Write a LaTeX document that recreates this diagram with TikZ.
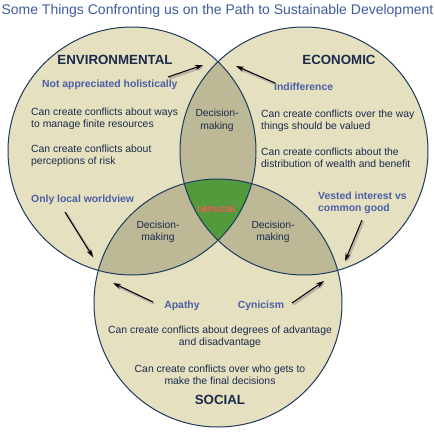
\documentclass[tikz,border=0pt]{standalone}
\usepackage{fontspec}
\setmainfont{Liberation Sans}
\usetikzlibrary{positioning}
\usetikzlibrary{arrows.meta}
\definecolor{parchment}{HTML}{E5E0BF}
\definecolor{lensgrey}{HTML}{BDB996}
\definecolor{impgreen}{HTML}{529A3C}
\definecolor{rimnavy}{HTML}{1E3A5C}
\definecolor{titleblue}{HTML}{3F5C9C}
\definecolor{cueblue}{HTML}{4B5EA6}
\definecolor{inknavy}{HTML}{1B2A4A}
\definecolor{alarmred}{HTML}{E8302C}
\definecolor{haloglow}{HTML}{E8B0A0}

\begin{document}
\begin{tikzpicture}[
    x=1pt, y=-1pt,
    >={Stealth[length=8pt,width=5pt]},
    % node styles
    heading/.style = {
      font=\fontsize{13.3}{15}\selectfont\bfseries,
      text=inknavy,
      inner sep=0pt
    },
    cue/.style = {
      font=\fontsize{10.4}{12}\selectfont\bfseries,
      text=cueblue,
      inner sep=0pt,
      align=left
    },
    body/.style = {
      font=\fontsize{10.4}{12}\selectfont,
      text=inknavy,
      inner sep=0pt,
      align=left
    },
    decide/.style = {
      font=\fontsize{10.3}{12.5}\selectfont,
      text=inknavy,
      inner sep=0pt,
      align=center
    },
    % ring styles
    ring/.style = {draw=rimnavy, line width=1pt},
    % arrow styles
    arr/.style = {->, line width=1pt, draw=black,
      preaction={draw=black!45, opacity=0.5, line width=2.5pt,
        transform canvas={shift={(1.2pt,-1.5pt)}}}}
  ]
  \useasboundingbox (0,0) rectangle (435,440);
  \fill[white] (0,0) rectangle (435,440);

  % --- Circles
  \coordinate (envc) at (132,151);
  \coordinate (ecoc) at (304,151);
  \coordinate (socc) at (218,303);
  \def\rad{124}

  \fill[parchment] (envc) circle (\rad);
  \fill[parchment] (ecoc) circle (\rad);
  \fill[parchment] (socc) circle (\rad);

  \begin{scope}
    \clip (envc) circle (\rad);
    \fill[lensgrey] (ecoc) circle (\rad);
    \fill[lensgrey] (socc) circle (\rad);
  \end{scope}
  \begin{scope}
    \clip (ecoc) circle (\rad);
    \fill[lensgrey] (socc) circle (\rad);
  \end{scope}
  \begin{scope}
    \clip (envc) circle (\rad);
    \clip (ecoc) circle (\rad);
    \fill[impgreen] (socc) circle (\rad);
  \end{scope}

  \draw[ring] (envc) circle (\rad);
  \draw[ring] (ecoc) circle (\rad);
  \draw[ring] (socc) circle (\rad);

  % --- Title
  \node[font=\fontsize{14}{16}\selectfont, text=titleblue, inner sep=0pt]
    (title) at (217.5,11) {Some Things Confronting us on the Path to Sustainable Development};

  % --- Headings
  \node[heading] (env) at (115,60) {ENVIRONMENTAL};
  \node[heading] (eco) at (339,60) {ECONOMIC};
  \node[heading] (soc) at (220,400) {SOCIAL};

  % --- Blue cues
  \node[cue, anchor=west] (holistic) at (42,85) {Not appreciated holistically};
  \node[cue, anchor=west] (indiff) at (274,87) {Indifference};
  \node[cue, anchor=west] (local) at (31,200) {Only local worldview};
  \node[cue, anchor=west] (vested) at (318,203) {Vested interest vs\\common good};
  \node[cue] (apathy) at (182,306) {Apathy};
  \node[cue] (cynic) at (261,306) {Cynicism};

  % --- Body text
  \node[body, anchor=west] (envA) at (31,119) {Can create conflicts about ways\\to manage finite resources};
  \node[body, anchor=west] (envB) at (31,156) {Can create conflicts about\\perceptions of risk};
  \node[body, anchor=west] (ecoA) at (261,120.5) {Can create conflicts over the way\\things should be valued};
  \node[body, anchor=west] (ecoB) at (261,158) {Can create conflicts about the\\distribution of wealth and benefit};
  \node[body, align=center] (socA) at (220,337) {Can create conflicts about degrees of advantage\\and disadvantage};
  \node[body, align=center] (socB) at (220,375) {Can create conflicts over who gets to\\make the final decisions};

  % --- Overlaps
  \node[decide] (dmtop) at (217,120.5) {Decision-\\making};
  \node[decide] (dmleft) at (158,232) {Decision-\\making};
  \node[decide] (dmright) at (273,232) {Decision-\\making};
  \node[font=\fontsize{8.5}{10}\selectfont\bfseries, text=haloglow, opacity=0.8, inner sep=0pt] (impglow) at (217,210) {IMPASSE};
  \node[font=\fontsize{8.5}{10}\selectfont, text=alarmred, inner sep=0pt] (impasse) at (217,210) {IMPASSE};

  % --- Arrows
  \coordinate (holtail) at (168,77);
  \coordinate (holtip) at (203,65);
  \coordinate (indtail) at (275,83);
  \coordinate (indtip) at (236,66);
  \coordinate (loctail) at (65,212);
  \coordinate (loctip) at (93,257);
  \coordinate (vestail) at (362,220);
  \coordinate (vestip) at (345,261);
  \coordinate (apatail) at (153,302);
  \coordinate (apatip) at (113,283);
  \coordinate (cyntail) at (292,303);
  \coordinate (cyntip) at (324,281);

  \draw[arr] (holtail) -- (holtip);
  \draw[arr] (indtail) -- (indtip);
  \draw[arr] (loctail) -- (loctip);
  \draw[arr] (vestail) -- (vestip);
  \draw[arr] (apatail) -- (apatip);
  \draw[arr] (cyntail) -- (cyntip);

\end{tikzpicture}
\end{document}
